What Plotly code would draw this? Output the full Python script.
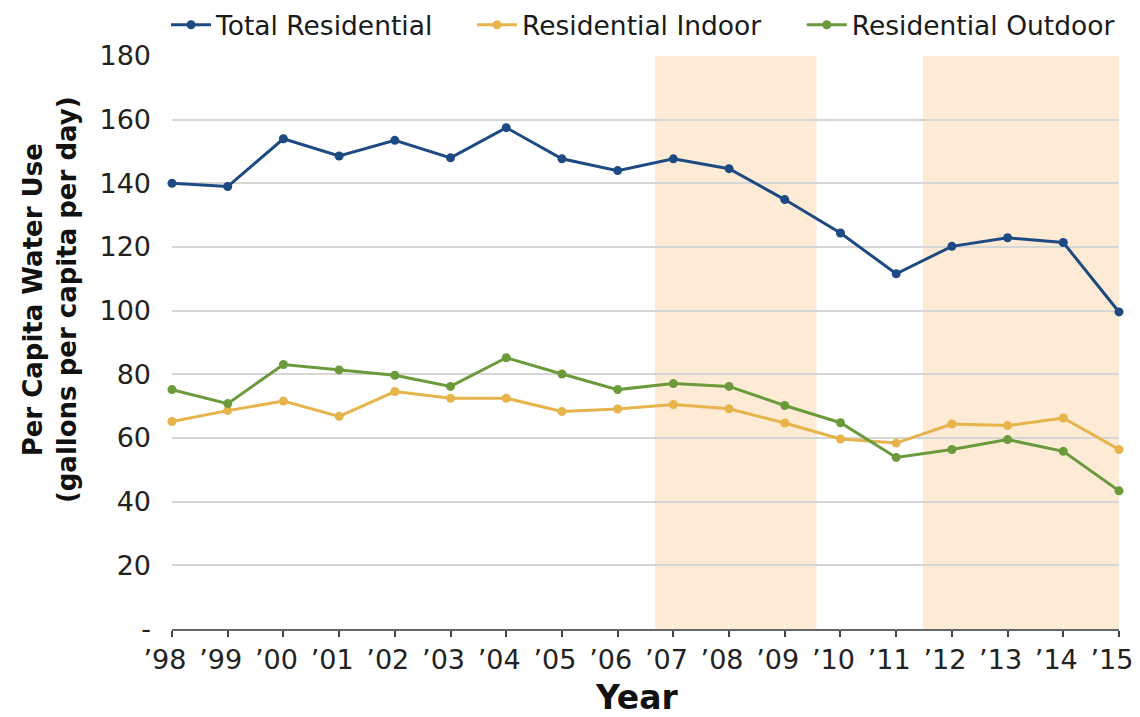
import plotly.graph_objects as go

years = list(range(1998, 2016))
year_labels = ["’98", "’99", "’00", "’01", "’02", "’03", "’04", "’05", "’06",
               "’07", "’08", "’09", "’10", "’11", "’12", "’13", "’14", "’15"]

total_residential = [140.0, 139.0, 154.0, 148.6, 153.5, 148.0, 157.5, 147.7, 144.0,
                     147.7, 144.6, 134.9, 124.4, 111.6, 120.2, 122.9, 121.4, 99.6]
residential_indoor = [65.2, 68.6, 71.6, 66.8, 74.6, 72.5, 72.5, 68.3, 69.1,
                      70.5, 69.2, 64.7, 59.7, 58.4, 64.4, 63.9, 66.3, 56.4]
residential_outdoor = [75.2, 70.8, 83.1, 81.4, 79.7, 76.2, 85.2, 80.1, 75.2,
                       77.1, 76.2, 70.2, 64.8, 53.9, 56.4, 59.5, 55.8, 43.4]

# shaded drought periods (start, end) in year units
shade_periods = [(2006.67, 2009.57), (2011.48, 2015.0)]

y_ticks = [0, 20, 40, 60, 80, 100, 120, 140, 160, 180]
y_tick_text = ["-", "20", "40", "60", "80", "100", "120", "140", "160", "180"]

y_title = "<b>Per Capita Water Use<br>(gallons per capita per day)</b>"
x_title = "<b>Year</b>"

series = [
    ("Total Residential", total_residential, "#1d4a82", "legend"),
    ("Residential Indoor", residential_indoor, "#e7b44b", "legend2"),
    ("Residential Outdoor", residential_outdoor, "#6a9a3c", "legend3"),
]
legend_x = {"legend": -0.0063, "legend2": 0.3168, "legend3": 0.665}

FONT = "DejaVu Sans"

fig = go.Figure()
for name, vals, color, leg in series:
    fig.add_trace(go.Scatter(
        x=years, y=vals, name=name, mode="lines+markers",
        line=dict(color=color, width=3),
        marker=dict(color=color, size=9),
        cliponaxis=False, legend=leg,
    ))

for x0, x1 in shade_periods:
    fig.add_shape(type="rect", xref="x", yref="y", x0=x0, x1=x1, y0=0, y1=180,
                  fillcolor="#fdebd6", line=dict(width=0), layer="below")

legend_style = dict(orientation="h", xanchor="left", y=1.0541, yanchor="middle",
                    font=dict(family=FONT, size=26.5, color="#1a1a1a"),
                    itemwidth=40, bgcolor="rgba(0,0,0,0)")

fig.add_annotation(text=y_title, xref="paper", yref="paper", x=-0.1288, y=0.574,
                   xanchor="center", yanchor="middle", textangle=-90, showarrow=False,
                   font=dict(family=FONT, size=26, color="#111111"))
fig.add_annotation(text=x_title, xref="paper", yref="paper", x=0.491, y=-0.1204,
                   xanchor="center", yanchor="middle", showarrow=False,
                   font=dict(family=FONT, size=33, color="#111111"))

fig.update_layout(
    width=1132, height=709,
    margin=dict(l=164, r=21, t=48, b=88, autoexpand=False),
    paper_bgcolor="white", plot_bgcolor="white",
    font=dict(family=FONT, size=24, color="#222222"),
    showlegend=True,
    legend=dict(x=legend_x["legend"], **legend_style),
    legend2=dict(x=legend_x["legend2"], **legend_style),
    legend3=dict(x=legend_x["legend3"], **legend_style),
    xaxis=dict(
        range=[1998, 2015], tickvals=years, ticktext=year_labels,
        showgrid=False, zeroline=False,
        showline=True, linecolor="#666666", linewidth=2,
        ticks="outside", ticklen=6, tickwidth=2, tickcolor="#444444",
        ticklabeloverflow="allow", ticklabelshift=-7,
        tickfont=dict(family=FONT, size=27, color="#222222"),
    ),
    yaxis=dict(
        range=[0, 180], tickvals=y_ticks, ticktext=y_tick_text,
        showgrid=True, gridcolor="#d6d6d6", gridwidth=2,
        zeroline=False, showline=False, ticks="",
        ticklabelstandoff=20,
        tickfont=dict(family=FONT, size=27, color="#222222"),
    ),
)

fig.write_html("out.html")
